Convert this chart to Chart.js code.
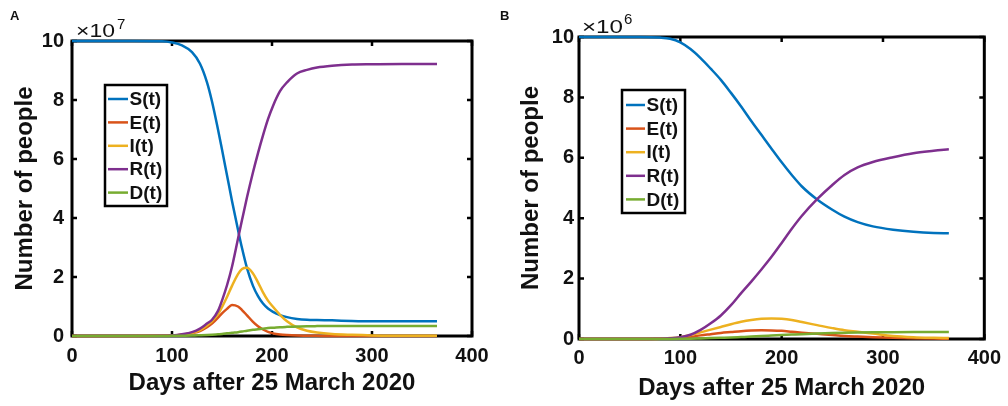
<!DOCTYPE html>
<html>
<head>
<meta charset="utf-8">
<script src="https://cdn.jsdelivr.net/npm/chart.js@4.4.0/dist/chart.umd.min.js"></script>
<style>
body { margin: 0; background: #fff; }
#wrapA { position: absolute; left: 0; top: 0; width: 500px; height: 406px; }
#wrapB { position: absolute; left: 500px; top: 0; width: 508px; height: 406px; }
</style>
</head>
<body>
<div id="wrapA"><canvas id="chartA" width="500" height="406"></canvas></div>
<div id="wrapB"><canvas id="chartB" width="508" height="406"></canvas></div>
<script>
var seriesNames = ["S(t)", "E(t)", "I(t)", "R(t)", "D(t)"];
var seriesColors = ["#0072BD", "#D95319", "#EDB120", "#7E2F8E", "#77AC30"];
var xTicks = [0, 100, 200, 300, 400];
var yTicks = [0, 2, 4, 6, 8, 10];
var xTitle = "Days after 25 March 2020";
var yTitle = "Number of people";

// panel A, values in units of 10^7
var daysA = [0, 60, 90, 100, 110, 120, 128, 135, 140, 146, 150, 155, 160, 166, 170, 175, 181, 186, 191, 196, 201, 208, 215, 225, 235, 245, 260, 280, 300, 330, 365];
var sA = [10, 10, 9.99, 9.95, 9.85, 9.62, 9.23, 8.6, 7.95, 7.0, 6.32, 5.45, 4.58, 3.6, 2.98, 2.3, 1.7, 1.35, 1.1, 0.93, 0.82, 0.71, 0.64, 0.58, 0.55, 0.54, 0.53, 0.51, 0.5, 0.5, 0.5];
var eA = [0, 0, 0.005, 0.01, 0.04, 0.1, 0.17, 0.3, 0.42, 0.62, 0.77, 0.92, 1.05, 1.0, 0.88, 0.7, 0.48, 0.33, 0.22, 0.14, 0.09, 0.05, 0.03, 0.015, 0.01, 0.005, 0, 0, 0, 0, 0];
var iA = [0, 0, 0.005, 0.01, 0.04, 0.1, 0.2, 0.36, 0.5, 0.74, 0.98, 1.32, 1.7, 2.1, 2.27, 2.31, 2.12, 1.82, 1.48, 1.2, 0.99, 0.72, 0.5, 0.29, 0.18, 0.12, 0.07, 0.04, 0.02, 0.01, 0.005];
var rA = [0, 0, 0.005, 0.02, 0.06, 0.13, 0.25, 0.42, 0.55, 0.85, 1.2, 1.72, 2.35, 3.3, 3.93, 4.7, 5.55, 6.2, 6.8, 7.35, 7.8, 8.3, 8.6, 8.9, 9.02, 9.1, 9.16, 9.2, 9.21, 9.22, 9.22];
var dA = [0, 0, 0, 0.005, 0.01, 0.015, 0.025, 0.035, 0.045, 0.06, 0.07, 0.09, 0.11, 0.13, 0.15, 0.18, 0.21, 0.23, 0.25, 0.27, 0.28, 0.3, 0.31, 0.32, 0.33, 0.335, 0.34, 0.34, 0.34, 0.34, 0.34];

// panel B, values in units of 10^6
var daysB = [0, 60, 80, 90, 100, 110, 120, 130, 140, 150, 160, 170, 180, 190, 200, 210, 220, 235, 250, 262, 275, 290, 310, 330, 350, 365];
var sB = [10, 10, 9.98, 9.94, 9.82, 9.6, 9.3, 8.95, 8.58, 8.15, 7.7, 7.22, 6.76, 6.3, 5.85, 5.43, 5.05, 4.62, 4.28, 4.05, 3.87, 3.73, 3.62, 3.55, 3.51, 3.5];
var eB = [0, 0, 0.005, 0.015, 0.03, 0.07, 0.12, 0.16, 0.2, 0.23, 0.26, 0.28, 0.29, 0.285, 0.27, 0.24, 0.21, 0.17, 0.13, 0.1, 0.08, 0.06, 0.04, 0.025, 0.015, 0.01];
var iB = [0, 0, 0.01, 0.03, 0.06, 0.13, 0.22, 0.31, 0.4, 0.49, 0.57, 0.63, 0.67, 0.68, 0.67, 0.63, 0.56, 0.46, 0.36, 0.29, 0.24, 0.18, 0.1, 0.06, 0.04, 0.03];
var rB = [0, 0, 0.01, 0.025, 0.06, 0.14, 0.3, 0.52, 0.78, 1.12, 1.52, 1.9, 2.3, 2.72, 3.18, 3.65, 4.08, 4.63, 5.1, 5.43, 5.68, 5.86, 6.02, 6.15, 6.23, 6.28];
var dB = [0, 0, 0, 0.002, 0.005, 0.01, 0.02, 0.03, 0.04, 0.05, 0.065, 0.08, 0.1, 0.115, 0.13, 0.145, 0.16, 0.18, 0.195, 0.205, 0.213, 0.22, 0.225, 0.228, 0.23, 0.23];

var FONT = "'Liberation Sans', Arial, sans-serif";

function toPoints(days, vals) {
  return days.map(function (d, i) { return { x: d, y: vals[i] }; });
}

// text stretched sideways to a given width (MATLAB's exponent label is wide)
function wideText(ctx, text, x, y, w) {
  var m = ctx.measureText(text).width;
  ctx.save();
  ctx.translate(x, y);
  ctx.scale(w / m, 1);
  ctx.fillText(text, 0, 0);
  ctx.restore();
}

function framePlugin(cfg) {
  return {
    id: 'frame',
    beforeDatasetsDraw: function (chart) {
      var ctx = chart.ctx, a = chart.chartArea, xs = chart.scales.x, ys = chart.scales.y;
      ctx.save();
      ctx.strokeStyle = '#000';
      ctx.lineWidth = 3;
      ctx.strokeRect(a.left, a.top, a.right - a.left, a.bottom - a.top);
      ctx.lineWidth = 2.5;
      ctx.beginPath();
      xs.ticks.forEach(function (t) {
        var px = xs.getPixelForValue(t.value);
        ctx.moveTo(px, a.bottom); ctx.lineTo(px, a.bottom - 5);
        ctx.moveTo(px, a.top); ctx.lineTo(px, a.top + 5);
      });
      ys.ticks.forEach(function (t) {
        var py = ys.getPixelForValue(t.value);
        ctx.moveTo(a.left, py); ctx.lineTo(a.left + 5, py);
        ctx.moveTo(a.right, py); ctx.lineTo(a.right - 5, py);
      });
      ctx.stroke();
      ctx.restore();
    },
    afterDatasetsDraw: function (chart) {
      var ctx = chart.ctx, L = cfg.legend;
      ctx.save();
      ctx.fillStyle = '#fff';
      ctx.fillRect(L.x, L.y, L.w, L.h);
      ctx.strokeStyle = '#000';
      ctx.lineWidth = 2.5;
      ctx.strokeRect(L.x, L.y, L.w, L.h);
      ctx.font = 'bold 19px ' + FONT;
      ctx.textBaseline = 'middle';
      ctx.textAlign = 'left';
      chart.data.datasets.forEach(function (ds, i) {
        var y = L.row0 + i * L.step;
        ctx.strokeStyle = ds.borderColor;
        ctx.lineWidth = 2.5;
        ctx.beginPath();
        ctx.moveTo(L.lx0, y); ctx.lineTo(L.lx1, y);
        ctx.stroke();
        ctx.fillStyle = '#111';
        ctx.fillText(ds.label, L.tx, y + 1);
      });
      ctx.restore();
    },
    afterDraw: function (chart) {
      var ctx = chart.ctx, E = cfg.exp;
      ctx.save();
      ctx.fillStyle = '#111';
      ctx.textBaseline = 'alphabetic';
      ctx.textAlign = 'left';
      ctx.font = '19px ' + FONT;
      wideText(ctx, '\u00d710', E.x, E.y, E.w);
      ctx.font = '15px ' + FONT;
      ctx.fillText(E.power, E.px, E.py);
      ctx.font = 'bold 13px ' + FONT;
      ctx.fillText(cfg.letter.text, cfg.letter.x, cfg.letter.y);
      ctx.restore();
    }
  };
}

function makeChart(id, days, series, cfg) {
  var datasets = series.map(function (vals, i) {
    return {
      label: seriesNames[i],
      data: toPoints(days, vals),
      borderColor: seriesColors[i],
      borderWidth: 2.5,
      pointRadius: 0,
      fill: false,
      cubicInterpolationMode: 'monotone',
      clip: false,
      order: series.length - i
    };
  });
  return new Chart(document.getElementById(id), {
    type: 'line',
    data: { datasets: datasets },
    options: {
      responsive: false,
      animation: false,
      layout: { padding: { left: 0, top: cfg.top, right: cfg.right, bottom: 0 } },
      plugins: { legend: { display: false }, tooltip: { enabled: false } },
      scales: {
        x: {
          type: 'linear', min: 0, max: 400,
          afterBuildTicks: function (s) { s.ticks = xTicks.map(function (v) { return { value: v }; }); },
          afterFit: function (s) { s.height = cfg.xHeight; },
          grid: { display: false, drawTicks: false },
          border: { display: false },
          ticks: { color: '#111', padding: cfg.xPad, font: { family: FONT, size: 20, weight: 'bold' } },
          title: { display: true, text: xTitle, color: '#111', padding: { top: 0, bottom: cfg.xTitlePad },
                   font: { family: FONT, size: 24, weight: 'bold' } }
        },
        y: {
          type: 'linear', min: 0, max: 10,
          afterBuildTicks: function (s) { s.ticks = yTicks.map(function (v) { return { value: v }; }); },
          afterFit: function (s) { s.width = cfg.yWidth; },
          grid: { display: false, drawTicks: false },
          border: { display: false },
          ticks: { color: '#111', padding: cfg.yPad, font: { family: FONT, size: 20, weight: 'bold' } },
          title: { display: true, text: yTitle, color: '#111', padding: { top: cfg.yTitlePad, bottom: 0 },
                   font: { family: FONT, size: 24, weight: 'bold' } }
        }
      }
    },
    plugins: [framePlugin(cfg)]
  });
}

makeChart('chartA', daysA, [sA, eA, iA, rA, dA], {
  top: 41, right: 28, xHeight: 70, yWidth: 72, xPad: 8, yPad: 8, xTitlePad: 8, yTitlePad: 11,
  legend: { x: 105, y: 85, w: 62, h: 121, row0: 99, step: 23.4, lx0: 108, lx1: 128, tx: 129.5 },
  exp: { x: 76, y: 37, w: 39, power: '7', px: 117, py: 29 },
  letter: { text: 'A', x: 10, y: 20 }
});

makeChart('chartB', daysB, [sB, eB, iB, rB, dB], {
  top: 37, right: 21, xHeight: 67, yWidth: 79, xPad: 7, yPad: 5, xTitlePad: 3, yTitlePad: 17,
  legend: { x: 122, y: 90, w: 63, h: 123, row0: 105, step: 23.6, lx0: 126, lx1: 145, tx: 146.5 },
  exp: { x: 82, y: 33, w: 41, power: '6', px: 124, py: 23.5 },
  letter: { text: 'B', x: 0, y: 20 }
});
</script>
</body>
</html>
